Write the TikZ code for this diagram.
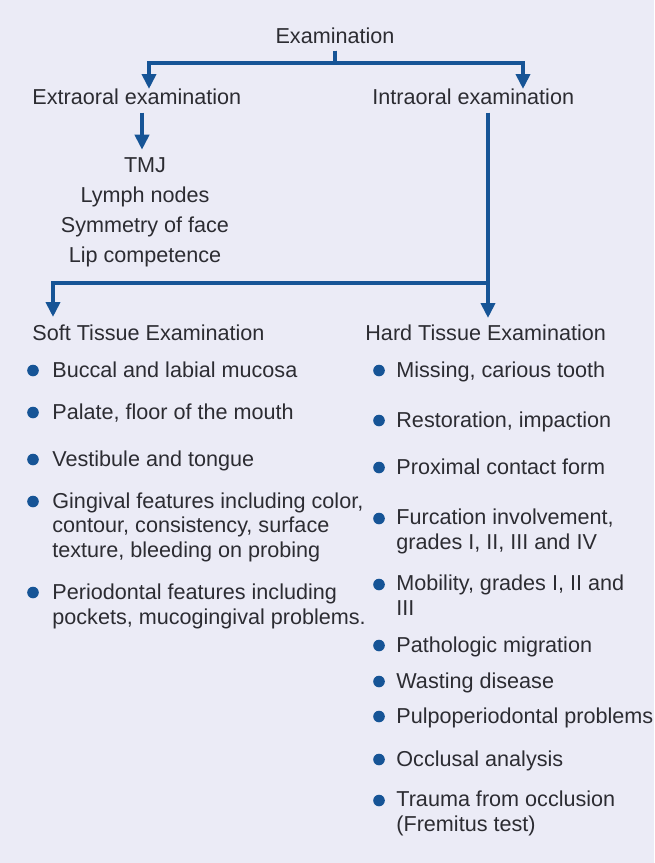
\documentclass[tikz,border=0pt]{standalone}
\usepackage{fontspec}
\setmainfont{Liberation Sans}
\usetikzlibrary{arrows.meta,positioning}
\definecolor{examblue}{RGB}{22,84,150}
\definecolor{examink}{RGB}{44,44,50}
\definecolor{exampaper}{RGB}{235,235,246}
\newcommand\labfont{\fontsize{10.8}{12.25}\selectfont}

\begin{document}
\begin{tikzpicture}[x=0.5pt, y=-0.5pt,
  txt/.style={inner sep=0pt, text=examink, font=\labfont},
  item/.style={txt, anchor=base west, align=left},
  conn/.style={draw=examblue, line width=1.9pt},
  arr/.style={conn, -{Triangle[width=7pt,length=7.5pt]}},
  dot/.style={circle, fill=examblue, inner sep=0pt, minimum size=5.8pt}]
\fill[exampaper] (0,0) rectangle (654,863);
\useasboundingbox (0,0) rectangle (654,863);

\node[txt, anchor=base] (exam) at (335,43) {Examination};
\node[txt, anchor=base west] (extra) at (32,104) {Extraoral examination};
\node[txt, anchor=base west] (intra) at (372,104) {Intraoral examination};
\node[txt, anchor=base] (tmj) at (145,172) {TMJ};
\node[txt, anchor=base] (lymph) at (145,202) {Lymph nodes};
\node[txt, anchor=base] (sym) at (145,232) {Symmetry of face};
\node[txt, anchor=base] (lip) at (145,262) {Lip competence};
\node[txt, anchor=base west] (soft) at (32,340) {Soft Tissue Examination};
\node[txt, anchor=base west] (hard) at (365,340) {Hard Tissue Examination};

\coordinate (bar) at (335,63);
\coordinate (exl) at (149,89);
\coordinate (exr) at (523,89);
\coordinate (split) at (488,283);
\coordinate (softin) at (53,317);
\coordinate (hardin) at (488,318);

\draw[arr, shorten <=3.5pt] (exam.south) -- (exam.south |- bar) -| (exl);
\draw[arr, shorten <=3.5pt] (exam.south) -- (exam.south |- bar) -| (exr);
\draw[arr, shorten <=4pt, shorten >=3.5pt] ([xshift=-1.5pt]extra.south -| tmj) -- ([xshift=-1.5pt]tmj.north);
\draw[arr, shorten <=4pt] (intra.south -| split) -- (hardin);
\draw[arr] (split) -| (softin);

% first baseline / last baseline / text
\foreach \y/\ly/\t [count=\i] in {
  377/377/{Buccal and labial mucosa},
  419/419/{Palate, floor of the mouth},
  466/466/{Vestibule and tongue},
  508/557/{Gingival features including color,\\contour, consistency, surface\\texture, bleeding on probing},
  599/624/{Periodontal features including\\pockets, mucogingival problems.}}{
  \node[dot] (sd\i) at (33,\y-6.5) {};
  \node[item] (s\i) at (52,\ly) {\t};
}

\foreach \y/\ly/\t [count=\i] in {
  377/377/{Missing, carious tooth},
  427/427/{Restoration, impaction},
  474/474/{Proximal contact form},
  525/549/{Furcation involvement,\\grades I, II, III and IV},
  591/615/{Mobility, grades I, II and\\III},
  652/652/{Pathologic migration},
  688/688/{Wasting disease},
  723/723/{Pulpoperiodontal problems},
  766/766/{Occlusal analysis},
  807/831/{Trauma from occlusion\\(Fremitus test)}}{
  \node[dot] (hd\i) at (379,\y-6.5) {};
  \node[item] (h\i) at (396,\ly) {\t};
}
\end{tikzpicture}
\end{document}
